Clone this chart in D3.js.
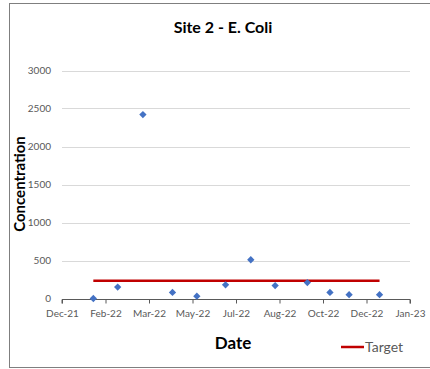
<!DOCTYPE html>
<html><head><meta charset="utf-8">
<script src="https://cdn.jsdelivr.net/npm/d3@7"></script>
<style>body{margin:0;background:#fff}svg{display:block}text{font-family:Lato,"Open Sans",sans-serif}</style>
</head><body>
<script>
const sampleDates = ["2022-01-25","2022-02-22","2022-03-23","2022-04-26","2022-05-24","2022-06-26","2022-07-25","2022-08-22","2022-09-28","2022-10-24","2022-11-15","2022-12-20"];
const concentration = [0,150,2420,80,30,180,510,170,210,80,50,50];
const targetValue = 235;
const xTickDates = ["2021-12-20","2022-02-08","2022-03-30","2022-05-19","2022-07-08","2022-08-27","2022-10-16","2022-12-05","2023-01-24"];
const yTicks = [0,500,1000,1500,2000,2500,3000];

const W=430,H=369;
const F="Lato, 'Open Sans', sans-serif";
const parse=d3.utcParse("%Y-%m-%d");
const svg=d3.select("body").append("svg").attr("width",W).attr("height",H);
svg.append("rect").attr("x",9.5).attr("y",3.5).attr("width",430).attr("height",364).attr("fill","#fff").attr("stroke","#7f7f7f").attr("stroke-width",1);

const x=d3.scaleUtc().domain([parse(xTickDates[0]),parse(xTickDates[xTickDates.length-1])]).range([62,410]);
const y=d3.scaleLinear().domain([0,3000]).range([298.5,70.5]);

svg.append("g").selectAll("line").data(yTicks.filter(d=>d>0)).join("line")
 .attr("x1",62).attr("x2",410).attr("y1",d=>Math.round(y(d))+0.5).attr("y2",d=>Math.round(y(d))+0.5)
 .attr("stroke","#d9d9d9").attr("stroke-width",1);

const ya=svg.append("g").attr("transform","translate(62,0)").call(d3.axisLeft(y).tickValues(yTicks).tickSize(0).tickPadding(11).tickFormat(d3.format("d")));
ya.select(".domain").remove();
ya.selectAll("text").attr("fill","#595959").style("font-size","10px").style("font-family",F);

const xa=svg.append("g").attr("transform",`translate(0,${Math.round(y(0))+0.5})`)
 .call(d3.axisBottom(x).tickValues(xTickDates.map(parse)).tickSize(4).tickPadding(6).tickFormat(d3.utcFormat("%b-%y")));
xa.select(".domain").attr("stroke","#595959").attr("d",`M${x.range()[0]},4V0H${x.range()[1]}V4`);
xa.selectAll(".tick line").attr("stroke","#595959");
xa.selectAll("text").attr("fill","#595959").style("font-size","10px").style("font-family",F);

const firstD=parse(sampleDates[0]), lastD=parse(sampleDates[sampleDates.length-1]);
svg.append("line").attr("x1",x(firstD)).attr("x2",x(lastD)).attr("y1",y(targetValue)).attr("y2",y(targetValue))
 .attr("stroke","#c00000").attr("stroke-width",2.5);

const diamond=d3.symbol().type(d3.symbolDiamond2).size(34);
svg.append("g").selectAll("path").data(sampleDates.map((d,i)=>({d:parse(d),v:concentration[i]}))).join("path")
 .attr("d",diamond).attr("transform",d=>`translate(${x(d.d)},${y(d.v)})`).attr("fill","#4472c4");

svg.append("text").attr("x",223).attr("y",33).attr("text-anchor","middle").attr("font-weight","bold").style("font-size","16px").style("font-family",F).attr("fill","#000").text("Site 2 - E. Coli");
svg.append("text").attr("transform","translate(25,184) rotate(-90)").attr("text-anchor","middle").attr("font-weight","bold").style("font-size","15px").style("font-family",F).attr("fill","#000").text("Concentration");
svg.append("text").attr("x",233).attr("y",349).attr("text-anchor","middle").attr("font-weight","bold").style("font-size","17px").style("font-family",F).attr("fill","#000").text("Date");
svg.append("line").attr("x1",341).attr("x2",364).attr("y1",347).attr("y2",347).attr("stroke","#c00000").attr("stroke-width",2.5);
svg.append("text").attr("x",365).attr("y",352).style("font-size","14px").style("font-family",F).attr("fill","#595959").text("Target");
</script>
</body></html>
